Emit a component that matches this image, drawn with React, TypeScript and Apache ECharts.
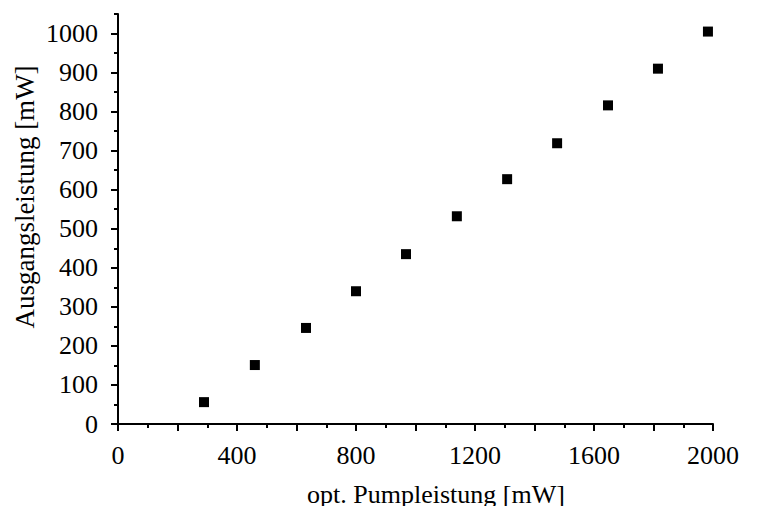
import React, { useEffect, useRef } from "react";
import * as echarts from "echarts";

const pumpPower = [289, 460, 632, 800, 968, 1139, 1308, 1476, 1647, 1815, 1983];
const outputPower = [56, 151, 246, 340, 435, 532, 627, 719, 816, 910, 1005];
const yMajorTicks = [0, 100, 200, 300, 400, 500, 600, 700, 800, 900, 1000];
const xTitle = "opt. Pumpleistung [mW]";
const yTitle = "Ausgangsleistung [mW]";

const FONT = "Liberation Serif, Times New Roman, serif";

export default function App() {
  const ref = useRef<HTMLDivElement>(null);
  useEffect(() => {
    if (!ref.current) return;
    const chart = echarts.init(ref.current, null, { renderer: "svg" });
    const axisLine = { show: true, lineStyle: { color: "#000", width: 2 } };
    const data = pumpPower.map((x, i) => [x, outputPower[i]]);
    chart.setOption({
      animation: false,
      backgroundColor: "#fff",
      grid: { left: 118, right: 45, top: 14, bottom: 82, outerBoundsMode: "none", containLabel: false },
      xAxis: [
        {
          type: "value", position: "bottom", min: 0, max: 2000, interval: 100,
          axisLine, axisTick: { show: true, length: 4, lineStyle: { color: "#000", width: 2 } },
          axisLabel: { show: false }, splitLine: { show: false },
        },
        {
          type: "value", position: "bottom", min: 0, max: 2000, interval: 200,
          axisLine: { show: false },
          axisTick: { show: true, length: 7, lineStyle: { color: "#000", width: 2 } },
          axisLabel: {
            show: true, margin: 18, color: "#000", fontFamily: FONT, fontSize: 26,
            formatter: (v: number) => (v % 400 === 0 ? String(v) : ""),
          },
          splitLine: { show: false },
        },
      ],
      yAxis: [
        {
          type: "value", position: "left", min: 0, max: 1050, interval: 50,
          axisLine, axisTick: { show: true, length: 4, lineStyle: { color: "#000", width: 2 } },
          axisLabel: { show: false }, splitLine: { show: false },
        },
        {
          type: "value", position: "left", min: 0, max: 1050, interval: 100,
          axisLine: { show: false },
          axisTick: { show: true, length: 7, customValues: yMajorTicks, lineStyle: { color: "#000", width: 2 } },
          axisLabel: {
            show: true, margin: 20, color: "#000", fontFamily: FONT, fontSize: 26,
            customValues: yMajorTicks,
            formatter: (v: number) => (v <= 1000 ? String(v) : ""),
          },
          splitLine: { show: false },
        },
      ],
      graphic: [
        {
          type: "text", x: 25, y: 197, rotation: Math.PI / 2,
          style: { text: yTitle, font: `27px ${FONT}`, fill: "#000", align: "center", verticalAlign: "middle" },
        },
        {
          type: "text", x: 436, y: 494,
          style: { text: xTitle, font: `26px ${FONT}`, fill: "#000", align: "center", verticalAlign: "middle" },
        },
      ],
      series: [
        {
          type: "scatter", xAxisIndex: 0, yAxisIndex: 0, data,
          symbol: "rect", symbolSize: 10,
          itemStyle: { color: "#000", opacity: 1 },
        },
      ],
    });
    return () => chart.dispose();
  }, []);
  return <div ref={ref} style={{ position: "absolute", left: 0, top: 0, width: 758, height: 506 }} />;
}
